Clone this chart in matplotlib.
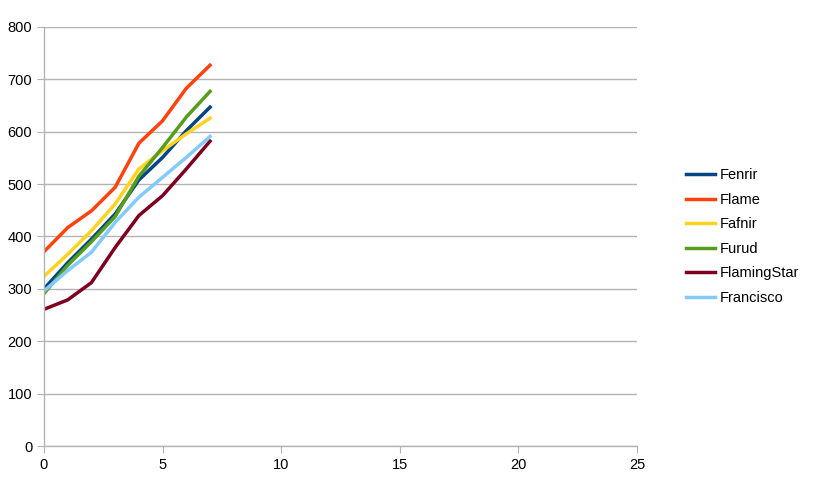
import matplotlib
matplotlib.use('Agg')
import matplotlib.pyplot as plt

x = [0, 1, 2, 3, 4, 5, 6, 7]
fenrir = [300, 350, 395, 443, 508, 551, 602, 647]
flame = [371, 417, 449, 494, 578, 621, 683, 727]
fafnir = [324, 366, 411, 462, 529, 564, 596, 626]
furud = [291, 345, 390, 438, 515, 570, 628, 677]
flamingstar = [261, 279, 312, 379, 440, 478, 529, 582]
francisco = [296, 335, 370, 427, 475, 513, 551, 591]

names = ['Fenrir', 'Flame', 'Fafnir', 'Furud', 'FlamingStar', 'Francisco']
colours = ['#004586', '#ff420e', '#ffd320', '#579d1c', '#7e0021', '#83caff']
series = [fenrir, flame, fafnir, furud, flamingstar, francisco]

plt.rcParams['font.family'] = ['Liberation Sans', 'DejaVu Sans']

fig = plt.figure(figsize=(8.2, 4.93), dpi=100)
ax = fig.add_axes([44 / 820, 1 - 446 / 493, (637 - 44) / 820, (446 - 27) / 493])

for name, col, vals in zip(names, colours, series):
    ax.plot(x, vals, color=col, linewidth=2.5, label=name)

ax.set_xlim(0, 25)
ax.set_ylim(0, 800)
ax.set_xticks(range(0, 26, 5))
ax.set_yticks(range(0, 801, 100))
ax.grid(axis='y', color='#b3b3b3', linewidth=1)
ax.set_axisbelow(True)

for side in ['top', 'right']:
    ax.spines[side].set_visible(False)
for side in ['left', 'bottom']:
    ax.spines[side].set_color('#b3b3b3')
    ax.spines[side].set_linewidth(1)
ax.tick_params(colors='#b3b3b3', labelcolor='#000000', labelsize=10.5, length=5)

# legend sits to the right, centred on the plot height
ax.legend(loc='center left', bbox_to_anchor=(1.06, 0.5), frameon=False,
          fontsize=10.5, handlelength=2.0, handletextpad=0.35, labelspacing=0.72)

fig.savefig('out.png', dpi=100)
